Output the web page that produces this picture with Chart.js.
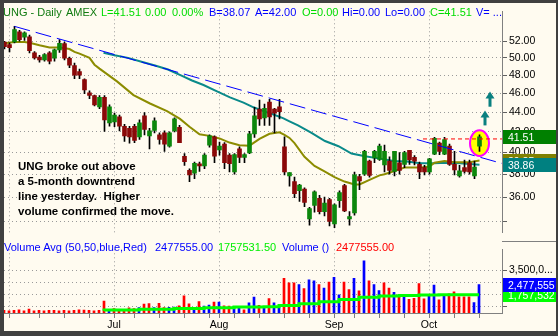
<!DOCTYPE html>
<html>
<head>
<meta charset="utf-8">
<script src="https://cdn.jsdelivr.net/npm/chart.js@4.4.1/dist/chart.umd.min.js"></script>
<style>
  html, body { margin: 0; padding: 0; background: #404040; }
  #marco { position: absolute; left: 4px; top: 3px; width: 552px; height: 328px; background: #fffbf0; overflow: hidden; }
  #precio { position: absolute; left: 0; top: 0; }
  #volumen { position: absolute; left: 0; top: 238px; }
  .t { position: absolute; white-space: pre; font: 11px "Liberation Sans", Arial, sans-serif; line-height: 13px; }
  .nota { position: absolute; left: 14px; top: 156px; white-space: pre; font: bold 11.5px "Liberation Sans", Arial, sans-serif; line-height: 15px; color: #000; }
</style>
</head>
<body>
<div id="marco">
  <canvas id="precio" width="552" height="238"></canvas>
  <canvas id="volumen" width="552" height="90"></canvas>

  <!-- cabecera -->
  <div class="t" style="left:-1px;top:3px;color:#107a10">UNG - Daily</div>
  <div class="t" style="left:62px;top:3px;color:#107a10">AMEX</div>
  <div class="t" style="left:97px;top:3px;color:#00dd00">L=41.51</div>
  <div class="t" style="left:141px;top:3px;color:#00dd00">0.00</div>
  <div class="t" style="left:168px;top:3px;color:#00dd00">0.00%</div>
  <div class="t" style="left:205px;top:3px;color:#0000ff">B=38.07</div>
  <div class="t" style="left:251px;top:3px;color:#0000ff">A=42.00</div>
  <div class="t" style="left:298px;top:3px;color:#00dd00">O=0.00</div>
  <div class="t" style="left:338px;top:3px;color:#0000ff">Hi=0.00</div>
  <div class="t" style="left:381px;top:3px;color:#0000ff">Lo=0.00</div>
  <div class="t" style="left:426px;top:3px;color:#00dd00">C=41.51</div>
  <div class="t" style="left:472px;top:3px;color:#0000ff">V= ...</div>

  <!-- comentario -->
  <div class="nota">UNG broke out above
a 5-month downtrend
line yesterday.  Higher
volume confirmed the move.</div>

  <!-- leyenda volumen -->
  <div class="t" style="left:0px;top:238px;color:#0000ff">Volume Avg (50,50,blue,Red)</div>
  <div class="t" style="left:151px;top:238px;color:#0000ff">2477555.00</div>
  <div class="t" style="left:214px;top:238px;color:#00ee00">1757531.50</div>
  <div class="t" style="left:278px;top:238px;color:#0000ff">Volume ()</div>
  <div class="t" style="left:332px;top:238px;color:#ff0000">2477555.00</div>
</div>

<script>
const d = document;
const FUENTE = '"Liberation Sans", Arial, sans-serif';

//Datos de velas (UNG diario, 31-may al 15-oct)
const opens = [51.9,51.6,51.9,53.15,52.5,52.55,50.6,50.1,49.75,50.6,
  49.95,50.95,51.7,49.95,49.1,48.4,47.5,46.05,45.75,44.55,
  45.55,42.9,43.0,43.5,42.55,42.35,42.55,41.5,43.6,41.6,
  42.15,41.7,41.9,40.6,42.1,42.45,39.65,38.35,38.1,38.95,
  38.75,40.7,41.5,40.25,40.8,39.75,38.2,40.35,39.55,39.95,
  41.8,44.3,43.4,45.05,44.3,44.55,40.55,37.85,37.35,36.55,
  36.7,34.2,35.3,35.9,34.8,35.8,33.8,35.7,37.0,34.2,
  34.7,37.8,38.0,39.2,39.5,39.35,38.85,39.2,38.25,39.05,
  38.9,40.2,39.55,38.9,38.6,38.2,39.85,40.9,39.85,40.6,
  38.9,37.85,38.6,39.05,37.85,40.6];
const highs = [52.0,51.8,53.85,53.35,53.15,52.75,50.75,50.3,50.5,50.75,
  51.05,52.2,51.9,50.1,49.4,48.7,47.6,46.25,45.8,45.75,
  45.75,44.75,43.9,43.7,42.75,42.55,42.75,43.2,43.95,42.35,
  43.4,41.9,42.1,42.0,43.4,42.65,39.9,38.5,39.1,39.1,
  39.9,41.7,41.6,41.0,40.95,39.9,39.9,40.55,39.9,42.05,
  44.5,45.25,44.85,45.35,44.4,45.35,41.5,38.15,37.75,37.1,
  36.8,35.15,36.55,36.15,36.0,35.9,35.45,36.55,37.1,34.8,
  38.2,38.0,40.2,39.3,40.2,40.8,40.7,39.6,40.1,40.0,
  40.1,40.2,39.7,39.1,38.8,39.45,41.45,41.0,41.45,40.8,
  40.1,38.8,39.3,39.3,39.2,41.7];
const lows = [51.05,50.7,51.8,52.0,52.1,50.6,49.85,49.5,49.6,49.3,
  49.6,50.65,49.75,48.85,47.6,47.6,45.95,45.4,44.65,44.35,
  42.05,42.55,42.5,42.1,41.05,40.9,40.95,41.25,41.7,40.35,
  41.9,40.8,40.1,40.5,42.0,40.95,38.8,37.35,37.6,38.25,
  38.5,40.5,39.05,39.75,38.5,38.2,38.0,39.05,39.05,39.9,
  41.45,42.65,42.65,42.65,41.9,43.3,37.95,36.95,35.95,35.65,
  35.2,33.7,34.75,34.6,34.45,33.65,33.5,35.15,34.8,33.7,
  34.5,36.65,37.9,37.75,39.05,39.25,38.2,38.0,37.85,38.0,
  38.6,38.9,38.85,37.6,37.95,38.0,39.8,39.8,39.8,38.8,
  37.95,37.75,38.1,38.0,37.6,40.1];
const closes = [51.35,51.2,53.45,52.2,53.05,50.85,50.0,49.75,50.4,49.6,
  50.95,51.75,49.95,49.15,48.0,48.0,46.35,45.75,44.75,45.55,
  43.2,44.55,43.7,42.55,41.6,41.5,41.15,42.9,42.25,42.1,
  43.1,41.25,40.8,41.9,43.3,40.95,39.15,37.95,39.0,38.75,
  39.75,41.6,39.65,40.6,39.05,38.95,39.8,39.55,39.8,41.8,
  43.6,43.3,44.4,43.5,43.9,44.05,38.2,38.15,36.3,37.05,
  35.55,35.05,36.45,34.8,35.5,34.0,35.35,36.4,34.85,34.4,
  37.95,37.4,40.1,37.9,40.1,40.6,40.1,38.35,40.1,38.35,
  40.0,39.3,39.2,38.2,38.2,39.4,41.35,40.1,41.25,38.9,
  38.4,38.3,38.25,38.2,38.65,41.51];

//Volumen diario (acciones) y color de cada barra (b = azul, r = rojo)
const volumes = [620000,600000,620000,660000,600000,720000,600000,620000,600000,620000,
  620000,600000,620000,600000,620000,660000,650000,620000,600000,620000,
  1290000,690000,750000,690000,650000,800000,750000,820000,1070000,1120000,
  820000,1140000,820000,840000,860000,950000,1670000,1090000,820000,1260000,
  930000,1010000,1220000,1220000,950000,930000,820000,800000,670000,1160000,
  1580000,990000,910000,1480000,1160000,850000,2930000,2610000,2610000,2490000,
  2190000,2820000,2760000,2490000,2230000,2660000,3010000,1750000,2660000,2130000,
  2930000,2030000,4200000,2760000,2490000,2060000,2610000,2230000,1920000,1710000,
  1750000,1430000,1490000,2550000,1460000,1750000,2440000,1390000,1750000,1810000,
  1960000,1600000,1600000,1600000,1180000,2477555];
const volDir = 'rrrrrrrrrrrrrrrrrrrr' + 'rbrrrrrbrr' + 'brrbbrrrbr' + 'bbrbrrbbrb' +
  'brbrbbrrrb' + 'rbbrbrbbrr' + 'brbrbbrrbr' + 'brrrrbbrbr' + 'rrrrbb';

//Medias: [indice de barra, valor]
const ma20Pts = [[0,51.75],[2,51.9],[4,51.9],[5,51.8],[7,51.5],[9,51.25],[11,51.25],[13,51.05],
  [14,50.7],[15,50.5],[17,50.0],[18,49.2],[19,48.75],[22.5,47.3],[25.8,45.8],[29.1,44.9],
  [32.5,44.1],[35.1,43.3],[37,42.5],[39,41.75],[41,41.6],[43,41.35],[45,40.95],[47,40.7],
  [49,40.65],[51,41.3],[53,41.8],[55,41.95],[56,41.7],[57,41.4],[58,40.9],[60,39.6],
  [62,38.75],[64,38.25],[66,37.75],[68,37.35],[70,37.1],[71,37.1],[73,37.5],[75,37.9],
  [76,38.0],[78,38.3],[80,38.6],[83,38.6],[85,38.7],[86,39.05],[88,39.2],[90,39.1],
  [93,39.1],[95,39.25]];
const ma50Pts = [[19.8,50.6],[22,50.3],[24.7,50.0],[27.4,49.55],[30.1,49.1],[32.7,48.65],
  [35.4,47.95],[37.5,47.4],[39.8,46.9],[42.5,46.2],[45.1,45.55],[47.8,45.0],[49.8,44.5],
  [51.8,44.1],[53.8,43.75],[55.8,43.35],[57,43.05],[58.7,42.65],[61.4,41.9],[64.1,41.1],
  [66.8,40.6],[69.4,39.9],[72.1,39.65],[74.8,39.45],[76.1,39.35],[77.8,39.2],[80.5,39.15],
  [83.1,39.0],[85.8,39.0],[88.5,39.05],[91.1,39.0],[95,38.86]];
const volAvgPts = [[20,600000],[27,650000],[34,700000],[40,760000],[46,820000],[52,860000],
  [55,880000],[59,970000],[63,1100000],[67,1250000],[71,1400000],[75,1580000],[79,1660000],
  [83,1700000],[87,1730000],[91,1755000],[95,1757531.5]];

//Lineas dibujadas a mano en el original
const trendPts = [[2,53.85],[99.6,38.97]];
const breakout = [[83.7,41.3],[99.6,41.3]];
const arrows = [[96,42.64,44.17],[97,44.56,46.2]];

//Ejes
const priceTicks = [34,36,38,40,42,44,46,48,50,52];
const volTicks = [875000,1750000,2625000,3500000];
const monthStarts = [1,22,43,66,85];
const monthNames = ['','Jul','Aug','Sep','Oct'];
const weekStarts = [7,12,17,26,31,36,41,46,51,56,61,70,75,80,90,95];

//Colores
const VERDE = '#0c870c', ROJO = '#8a0808', GRILLA = '#9a9a9a';

Chart.defaults.font.family = FUENTE;

const toXY = pts => pts.map(p => ({ x: p[0], y: p[1] }));
const corta = s => s.length > 7 ? s.slice(0, 7) + '...' : s;

//Caja de valor sobre el eje derecho
const caja = (chart, valor, fondo, texto) => {
  const { ctx, chartArea } = chart,
    py = Math.round(chart.scales.y.getPixelForValue(valor));
  ctx.save();
  ctx.fillStyle = fondo;
  ctx.fillRect(chartArea.right + 1, py - 7, chart.width - chartArea.right, 14);
  ctx.fillStyle = '#fff';
  ctx.font = '10.5px ' + FUENTE;
  ctx.textBaseline = 'middle';
  ctx.fillText(texto, chartArea.right + 6, py + 1);
  ctx.restore();
};

const adornosPrecio = {
  id: 'adornosPrecio',
  beforeDatasetsDraw(chart) {
    //Elipse sobre la ultima vela
    const { ctx, scales: { x, y } } = chart,
      ult = closes.length - 1,
      cx = x.getPixelForValue(ult),
      yh = y.getPixelForValue(highs[ult]),
      yl = y.getPixelForValue(lows[ult]);
    ctx.save();
    ctx.beginPath();
    ctx.ellipse(cx, (yh + yl) / 2, 9.5, (yl - yh) / 2 + 4.5, 0, 0, 2 * Math.PI);
    ctx.fillStyle = '#ffff00';
    ctx.fill();
    ctx.lineWidth = 2;
    ctx.strokeStyle = '#ff00ff';
    ctx.stroke();
    ctx.restore();
  },
  afterDraw(chart) {
    const { ctx, scales: { x, y } } = chart;
    //Flechas
    ctx.save();
    ctx.fillStyle = '#0a8080';
    arrows.forEach(([k, desde, hasta]) => {
      const px = Math.round(x.getPixelForValue(k)),
        y0 = y.getPixelForValue(desde),
        y1 = y.getPixelForValue(hasta);
      ctx.fillRect(px - 1.5, y1 + 6, 3, y0 - y1 - 6);
      ctx.beginPath();
      ctx.moveTo(px, y1);
      ctx.lineTo(px + 4.5, y1 + 7);
      ctx.lineTo(px - 4.5, y1 + 7);
      ctx.closePath();
      ctx.fill();
    });
    ctx.restore();
    //Cajas de ultimo valor
    const ma20Ult = ma20Pts[ma20Pts.length - 1][1],
      ma50Ult = ma50Pts[ma50Pts.length - 1][1],
      cierre = closes[closes.length - 1];
    caja(chart, ma20Ult, '#808000', ma20Ult.toFixed(2));
    caja(chart, ma50Ult, '#008080', ma50Ult.toFixed(2));
    caja(chart, cierre, '#008000', cierre.toFixed(2));
  }
};

const adornosVolumen = {
  id: 'adornosVolumen',
  afterDraw(chart) {
    const { ctx, chartArea } = chart;
    ctx.save();
    ctx.strokeStyle = '#808080';
    ctx.lineWidth = 1;
    ctx.beginPath();
    ctx.moveTo(chartArea.right, 0.5);
    ctx.lineTo(chart.width, 0.5);
    ctx.stroke();
    ctx.restore();
    const prom = volAvgPts[volAvgPts.length - 1][1],
      ult = volumes[volumes.length - 1];
    caja(chart, prom, '#00ff00', Math.round(prom).toLocaleString('en-US'));
    caja(chart, ult, '#0000ff', ult.toLocaleString('en-US'));
  }
};

//Grafico de precios
new Chart(d.getElementById('precio'), {
  type: 'bar',
  data: {
    datasets: [
      {
        type: 'line', data: toXY(trendPts), borderColor: '#0000ff', borderWidth: 1,
        borderDash: [16, 6], pointRadius: 0, order: 0
      },
      {
        type: 'line', data: toXY(breakout), borderColor: '#ff0000', borderWidth: 1,
        borderDash: [4, 3], pointRadius: 0, order: 1
      },
      {
        data: opens.map((o, i) => ({ x: i, y: [o, closes[i]] })),
        backgroundColor: opens.map((o, i) => closes[i] >= o ? VERDE : ROJO),
        barThickness: 4, grouped: false, minBarLength: 1, order: 2
      },
      {
        data: highs.map((h, i) => ({ x: i, y: [lows[i], h] })),
        backgroundColor: '#000', barThickness: 1, grouped: false, order: 3
      },
      {
        type: 'line', data: toXY(ma20Pts), borderColor: '#8c8c00', borderWidth: 2,
        pointRadius: 0, order: 4
      },
      {
        type: 'line', data: toXY(ma50Pts), borderColor: '#0a8a8a', borderWidth: 2,
        pointRadius: 0, order: 5
      }
    ]
  },
  options: {
    responsive: false,
    animation: false,
    layout: { padding: 0 },
    plugins: { legend: { display: false }, tooltip: { enabled: false } },
    scales: {
      x: {
        type: 'linear', min: -0.1, max: 99.5, offset: false, bounds: 'data',
        afterBuildTicks: s => { s.ticks = monthStarts.map(v => ({ value: v })); },
        ticks: { display: false },
        grid: { color: GRILLA, drawTicks: false, offset: false },
        border: { display: false, dash: [1, 3] }
      },
      y: {
        type: 'logarithmic', position: 'right', min: 33.11, max: 55.8, bounds: 'data',
        afterBuildTicks: s => { s.ticks = priceTicks.map(v => ({ value: v })); },
        afterFit: s => { s.width = 54; },
        ticks: {
          autoSkip: false, padding: 2, color: '#000', font: { size: 10.5 },
          callback: v => v === priceTicks[0] ? '' : Number(v).toFixed(2)
        },
        grid: { color: GRILLA, tickColor: '#606060', tickLength: 5 },
        border: { display: true, color: '#808080', dash: [1, 3] }
      }
    }
  },
  plugins: [adornosPrecio]
});

//Grafico de volumen
const marcasX = monthStarts.concat(weekStarts).sort((a, b) => a - b);

new Chart(d.getElementById('volumen'), {
  type: 'bar',
  data: {
    datasets: [
      {
        type: 'line', data: toXY(volAvgPts), borderColor: '#00ff00', borderWidth: 3,
        stepped: 'after', pointRadius: 0, order: 0
      },
      {
        data: volumes.map((v, i) => ({ x: i, y: v })),
        backgroundColor: volDir.split('').map(c => c === 'b' ? '#0000ff' : '#ff0000'),
        barThickness: 2, grouped: false, order: 1
      }
    ]
  },
  options: {
    responsive: false,
    animation: false,
    layout: { padding: 0 },
    plugins: { legend: { display: false }, tooltip: { enabled: false } },
    scales: {
      x: {
        type: 'linear', min: 0, max: 99.6, offset: false, bounds: 'data',
        afterBuildTicks: s => { s.ticks = marcasX.map(v => ({ value: v })); },
        afterFit: s => { s.height = 18; },
        ticks: {
          autoSkip: false, maxRotation: 0, padding: 1, color: '#000', font: { size: 10.5 },
          callback: v => {
            const m = monthStarts.indexOf(v);
            return m >= 0 ? monthNames[m] : '';
          }
        },
        grid: {
          offset: false, tickLength: 5, tickColor: '#808080',
          color: c => (c.tick && monthStarts.includes(c.tick.value)) ? GRILLA : 'rgba(0,0,0,0)'
        },
        border: { display: true, color: '#808080', dash: [1, 3] }
      },
      y: {
        position: 'right', min: 435000, max: 5030000, bounds: 'data',
        afterBuildTicks: s => { s.ticks = volTicks.map(v => ({ value: v })); },
        afterFit: s => { s.width = 54; },
        ticks: {
          autoSkip: false, padding: 2, color: '#000', font: { size: 10.5 },
          callback: v => v === volTicks[volTicks.length - 1] ? corta(Number(v).toLocaleString('en-US')) : ''
        },
        grid: { color: GRILLA, tickColor: '#606060', tickLength: 5 },
        border: { display: true, color: '#808080', dash: [1, 3] }
      }
    }
  },
  plugins: [adornosVolumen]
});
</script>
</body>
</html>
